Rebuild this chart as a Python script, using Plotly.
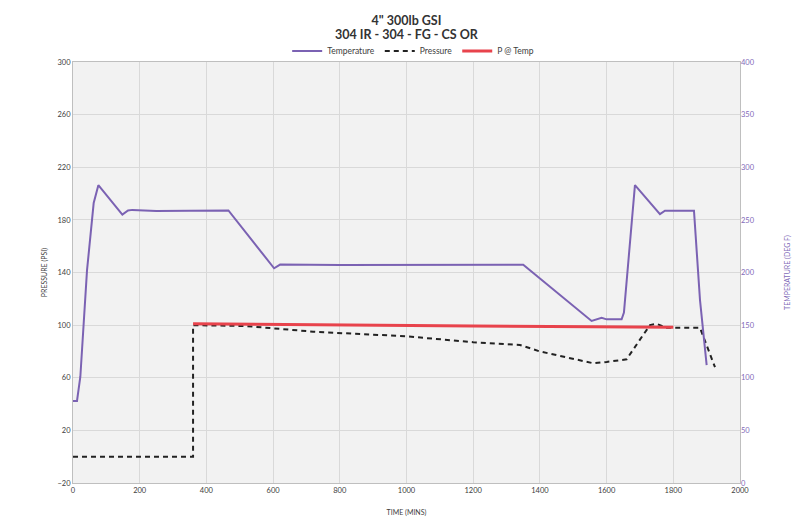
import plotly.graph_objects as go

# Temperature (deg F) vs time (mins)
temp_time = [0, 12, 22, 42, 62, 76, 148, 165, 178, 250, 350, 466, 603, 621, 800, 1000,
             1200, 1350, 1555, 1585, 1600, 1645, 1652, 1685, 1760, 1775, 1862, 1880, 1900]
temp_vals = [78, 78, 101, 202, 266, 283, 255, 259, 259.5, 258.5, 258.7, 259, 204, 207.5,
             207.2, 207.3, 207.4, 207.4, 154, 157, 155.5, 155.5, 162, 283, 255.5, 258.7,
             258.7, 174, 112]

# Pressure (PSI) vs time
pres_time = [0, 360, 360, 520, 720, 910, 1000, 1200, 1290, 1340, 1400, 1480, 1560, 1600,
             1660, 1700, 1730, 1750, 1780, 1880, 1905, 1925]
pres_vals = [0, 0, 100, 99.3, 95, 92.7, 91.5, 87, 86, 84.9, 80, 75.5, 71, 72, 74, 89,
             100, 101, 98, 98, 82, 68]

# P @ Temp
pt_time = [360, 800, 1200, 1800]
pt_vals = [101, 100, 99.3, 98.4]

TITLE_1 = "4\" 300lb GSI"
TITLE_2 = "304 IR - 304 - FG - CS OR"

FONT = "Lato"
PURPLE = "#7b62b3"
AXIS_TXT = "#404040"
FIG_W, FIG_H = 795, 518
M_T = 54
PLOT_H = FIG_H - M_T - 43

fig = go.Figure()
fig.add_trace(go.Scatter(x=temp_time, y=temp_vals, name="Temperature", mode="lines",
                         line=dict(color=PURPLE, width=2), yaxis="y2"))
fig.add_trace(go.Scatter(x=pres_time, y=pres_vals, name="Pressure", mode="lines",
                         line=dict(color="#222222", width=2, dash="5px,4px")))
fig.add_trace(go.Scatter(x=pt_time, y=pt_vals, name="P @ Temp", mode="lines",
                         line=dict(color="#e8434c", width=3)))

fig.add_annotation(text="<b>" + TITLE_2 + "</b>", xref="paper", yref="paper",
                   x=0.5, y=1 + (M_T - 26) / PLOT_H, xanchor="center", yanchor="middle",
                   showarrow=False, font=dict(family=FONT, size=12.5, color="#333333"))

fig.update_layout(
    width=FIG_W, height=FIG_H,
    margin=dict(l=65, r=63, t=M_T, b=43, autoexpand=False),
    paper_bgcolor="white",
    plot_bgcolor="#f2f2f2",
    font=dict(family=FONT, size=8, color=AXIS_TXT),
    title=dict(text="<b>" + TITLE_1 + "</b>",
               x=0.5, xref="paper", y=1 - 13 / FIG_H, yref="container",
               xanchor="center", yanchor="middle",
               font=dict(family=FONT, size=12.5, color="#333333")),
    legend=dict(orientation="h", x=0.51, xanchor="center", y=1 + (M_T - 43) / PLOT_H,
                yanchor="middle",
                font=dict(size=8.5, color="#404040"), bgcolor="rgba(0,0,0,0)",
                itemwidth=30, tracegroupgap=0),
    showlegend=True,
    xaxis=dict(range=[0, 2000], dtick=200, showgrid=True, gridcolor="#d9d9d9",
               zeroline=False, showline=True, linecolor="#bfbfbf", mirror=True,
               ticks="", tickfont=dict(size=7.5), automargin=False,
               title=dict(text="TIME (MINS)", font=dict(size=7), standoff=16)),
    yaxis=dict(range=[-20, 300], dtick=40, tick0=-20, showgrid=True, gridcolor="#d9d9d9",
               zeroline=False, showline=True, linecolor="#bfbfbf", mirror=True,
               ticks="", tickfont=dict(size=7.5), automargin=False,
               title=dict(text="PRESSURE (PSI)", font=dict(size=7), standoff=8)),
    yaxis2=dict(range=[0, 400], dtick=50, overlaying="y", side="right", showgrid=False,
                zeroline=False, ticks="", tickfont=dict(size=7.5, color="#7f6ab8"),
                automargin=False,
                title=dict(text="TEMPERATURE (DEG F)", font=dict(size=7, color="#7f6ab8"),
                           standoff=31)),
)

fig.write_html("out.html")
